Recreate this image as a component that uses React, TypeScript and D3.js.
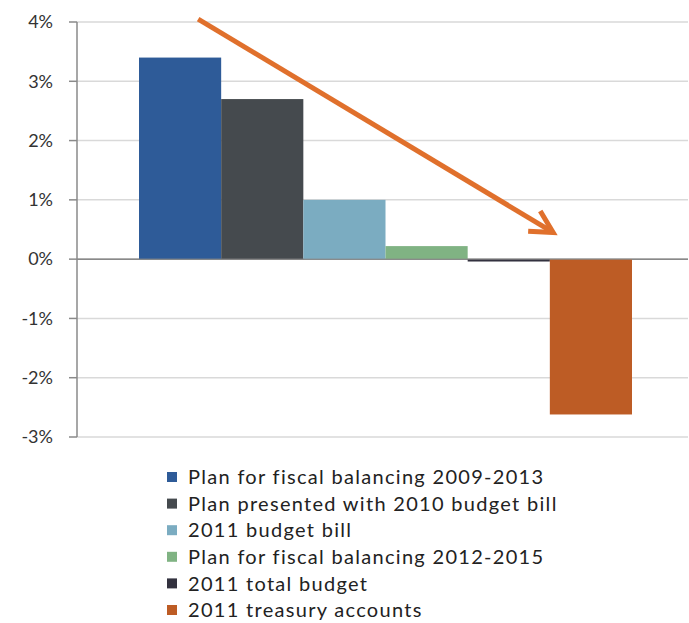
import React from "react";
import * as d3 from "d3";

const seriesNames = [
  "Plan for fiscal balancing 2009-2013",
  "Plan presented with 2010 budget bill",
  "2011 budget bill",
  "Plan for fiscal balancing 2012-2015",
  "2011 total budget",
  "2011 treasury accounts",
];
const seriesValues = [3.4, 2.7, 1.0, 0.22, -0.04, -2.62];
const seriesColors = ["#2E5B98", "#454A4E", "#7BACC1", "#80B383", "#33323F", "#BD5C25"];
const yTicks = [4, 3, 2, 1, 0, -1, -2, -3];
// annotation arrow: from (series index + offset within band, value) to (...)
const arrowFrom = { series: 0, offset: 0.72, value: 4.05 };
const arrowTo = { series: 5, offset: 0.04, value: 0.45 };

const W = 689;
const H = 623;
const FONT = "Lato, 'Open Sans', sans-serif";

export default function App() {
  const axisX = 77;
  const rightX = 688;
  const y = d3.scaleLinear().domain([-3, 4]).range([437, 22]);
  const x = d3
    .scaleBand<string>()
    .domain(seriesNames)
    .range([139, 632])
    .padding(0);
  const bw = x.bandwidth();

  const ax = (p: { series: number; offset: number; value: number }) =>
    (x(seriesNames[p.series]) as number) + p.offset * bw;
  const x1 = ax(arrowFrom);
  const y1 = y(arrowFrom.value);
  const x2 = ax(arrowTo);
  const y2 = y(arrowTo.value);
  const ang = Math.atan2(y2 - y1, x2 - x1);
  const headLen = 25;
  const spread = (28 * Math.PI) / 180;
  const hA = [x2 - headLen * Math.cos(ang - spread), y2 - headLen * Math.sin(ang - spread)];
  const hB = [x2 - headLen * Math.cos(ang + spread), y2 - headLen * Math.sin(ang + spread)];

  const legendX = 167;
  const legendY0 = 477;
  const legendStep = 26.6;

  return (
    <svg
      width={W}
      height={H}
      style={{ position: "absolute", left: 0, top: 0, background: "#fff" }}
      fontFamily={FONT}
    >
      <rect x={0} y={0} width={W} height={H} fill="#fff" />
      {/* gridlines */}
      {yTicks.map((t) => (
        <line
          key={"g" + t}
          x1={axisX}
          x2={rightX}
          y1={y(t)}
          y2={y(t)}
          stroke={t === 0 ? "#8a8a8a" : "#d9d9d9"}
          strokeWidth={1.5}
        />
      ))}
      {/* bars */}
      {seriesNames.map((s, i) => {
        const v = seriesValues[i];
        const top = y(Math.max(0, v));
        const bot = y(Math.min(0, v));
        return (
          <rect
            key={s}
            x={x(s)}
            y={top}
            width={bw}
            height={Math.max(bot - top, 1.5)}
            fill={seriesColors[i]}
          />
        );
      })}
      {/* zero line */}
      <line x1={axisX} x2={rightX} y1={y(0)} y2={y(0)} stroke="#8a8a8a" strokeWidth={1} />
      {/* y axis */}
      <line x1={axisX} x2={axisX} y1={y(4)} y2={y(-3)} stroke="#8a8a8a" strokeWidth={1.5} />
      {yTicks.map((t) => (
        <g key={"t" + t}>
          <line x1={axisX - 8} x2={axisX} y1={y(t)} y2={y(t)} stroke="#8a8a8a" strokeWidth={1.5} />
          <text
            x={53}
            y={y(t)}
            dy="0.35em"
            textAnchor="end"
            fontSize={18}
            fill="#333"
          >
            {`${t}%`}
          </text>
        </g>
      ))}
      {/* arrow annotation */}
      <g stroke="#E0702C" strokeWidth={5} fill="none" strokeLinecap="butt" strokeLinejoin="miter">
        <line x1={x1} y1={y1} x2={x2 - 3 * Math.cos(ang)} y2={y2 - 3 * Math.sin(ang)} />
        <polyline points={`${hA[0]},${hA[1]} ${x2},${y2} ${hB[0]},${hB[1]}`} />
      </g>
      {/* legend */}
      {seriesNames.map((s, i) => {
        const cy = legendY0 + i * legendStep;
        return (
          <g key={"l" + s}>
            <rect x={legendX} y={cy - 5} width={10} height={10} fill={seriesColors[i]} />
            <text x={188} y={cy} dy="0.36em" fontSize={20} letterSpacing={1.3} fill="#222">
              {s}
            </text>
          </g>
        );
      })}
    </svg>
  );
}
